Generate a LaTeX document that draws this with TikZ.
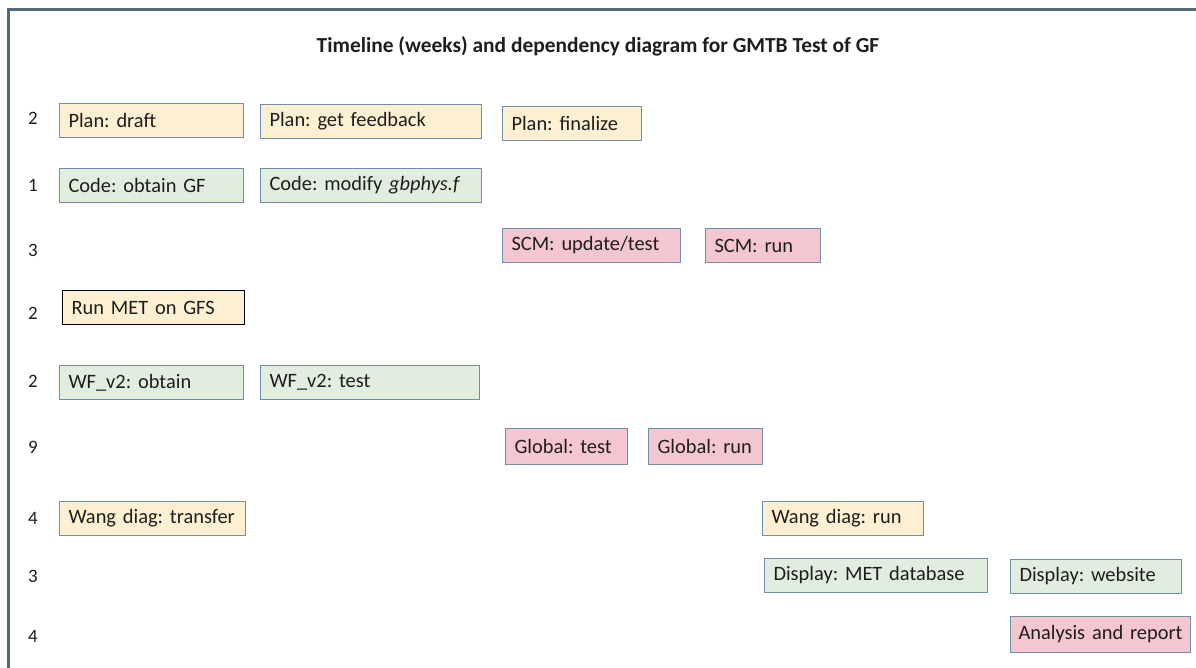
\documentclass[tikz,border=0pt]{standalone}
\usepackage{fontspec}
\setmainfont{Carlito}
\frenchspacing
\definecolor{frame}{HTML}{566A75}
\definecolor{edge}{HTML}{6E8EAA}
\definecolor{ylw}{HTML}{FDF0D2}
\definecolor{grn}{HTML}{E1EEDF}
\definecolor{pnk}{HTML}{F4C6D2}
\definecolor{txt}{HTML}{1E1E1E}
\begin{document}
\begin{tikzpicture}[x=1bp,y=-1bp,
  tbox/.style={draw=edge, line width=1bp, anchor=north west, inner xsep=9bp, inner ysep=0bp,
     minimum height=34bp, align=left, font=\fontsize{20.5}{23}\selectfont, text=txt},
  yb/.style={tbox, fill=ylw},
  gb/.style={tbox, fill=grn},
  pb/.style={tbox, fill=pnk},
  num/.style={font=\fontsize{19}{21}\selectfont, text=txt}]
\useasboundingbox (0,0) rectangle (1196,668);
\begin{scope}
\clip (0,0) rectangle (1196,668);
\fill[white] (0,0) rectangle (1196,668);
\draw[frame, line width=3bp] (8.5,700) -- (8.5,9.5) -- (1220,9.5);
\end{scope}
\node[font=\bfseries\fontsize{21.5}{24}\selectfont, text=txt] (title) at (598,46) {Timeline (weeks) and dependency diagram for GMTB Test of GF};
% row numbers
\node[num] (n1) at (33,118) {2};
\node[num] (n2) at (33,185) {1};
\node[num] (n3) at (33,250) {3};
\node[num] (n4) at (33,313) {2};
\node[num] (n5) at (33,381) {2};
\node[num] (n6) at (33,447) {9};
\node[num] (n7) at (33,518) {4};
\node[num] (n8) at (33,576) {3};
\node[num] (n9) at (33,636) {4};
% boxes
\node[yb, text width=166bp] (pd) at (59,103) {Plan: draft};
\node[yb, text width=203bp] (pf) at (260,104) {Plan: get feedback};
\node[yb, text width=121bp] (pz) at (502,106) {Plan: finalize};
\node[gb, text width=166bp] (co) at (59,168) {Code: obtain GF};
\node[gb, text width=203bp] (cm) at (260,168) {Code: modify \textit{gbphys.f}};
\node[pb, text width=160bp] (su) at (502,228) {SCM: update/test};
\node[pb, text width=97bp] (sr) at (705,228) {SCM: run};
\node[yb, draw=black, text width=164bp] (rm) at (62,290) {Run MET on GFS};
\node[gb, text width=166bp] (wo) at (59,365) {WF\_v2: obtain};
\node[gb, text width=201bp] (wt) at (260,365) {WF\_v2: test};
\node[pb, text width=104bp, minimum height=36bp] (gt) at (505,428) {Global: test};
\node[pb, text width=96bp, minimum height=36bp] (gr) at (648,428) {Global: run};
\node[yb, text width=168bp] (wd) at (59,501) {Wang diag: transfer};
\node[yb, text width=143bp] (wr) at (762,501) {Wang diag: run};
\node[gb, text width=205bp] (dm) at (764,558) {Display: MET database};
\node[gb, text width=153bp] (dw) at (1010,559) {Display: website};
\node[pb, inner xsep=8bp, text width=164bp, minimum height=36bp] (ar) at (1010,616) {\mbox{Analysis and report}};
\end{tikzpicture}
\end{document}
